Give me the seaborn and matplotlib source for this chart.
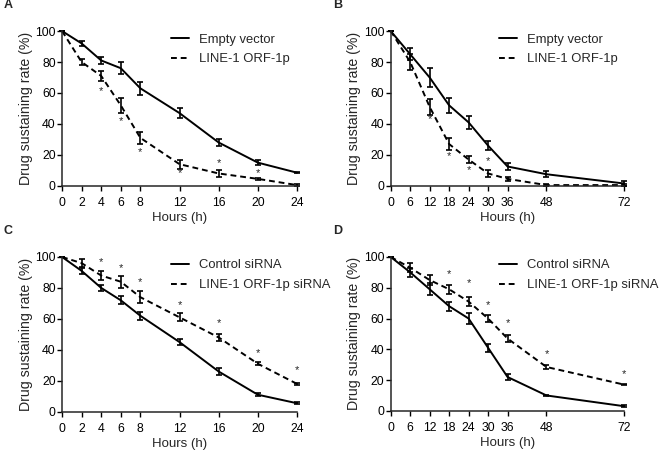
import pandas as pd
import matplotlib
matplotlib.use("Agg")
import matplotlib.pyplot as plt
import seaborn as sns

# Panel A / C time points (h) and panel B / D time points (h)
hours_short = [0, 2, 4, 6, 8, 12, 16, 20, 24]
hours_long = [0, 6, 12, 18, 24, 30, 36, 48, 72]

# Panel A: overexpression, 24 h
a_empty = [100, 92, 81, 76, 63, 47, 28, 15, 8.5]
a_empty_err = [0, 1.5, 2, 4, 4, 3, 2.5, 1.5, 0.5]
a_orf = [100, 80, 71, 52, 31, 14, 8, 4.5, 0.5]
a_orf_err = [0, 2, 3, 5, 4, 3, 2, 0.5, 0.5]
a_star_x = [4, 6, 8, 12, 16, 20]
a_star_y = [61, 42, 22, 8, 15, 8]

# Panel B: overexpression, 72 h
b_empty = [100, 85, 70, 52, 41, 26, 12.5, 7.5, 1.5]
b_empty_err = [0, 4, 6, 5, 4, 3, 2, 2, 1.5]
b_orf = [100, 80, 51, 27, 17, 8, 4.5, 0.5, 0.5]
b_orf_err = [0, 5, 5, 4, 2.5, 2.5, 1.5, 0.5, 0.5]
b_star_x = [12, 18, 24, 30]
b_star_y = [43, 19, 10, 16]

# Panel C: siRNA, 24 h
c_ctrl = [100, 91, 80, 72, 62, 45, 26, 11, 5.5]
c_ctrl_err = [0, 2, 2, 2.5, 2.5, 2, 2.5, 1, 0.5]
c_si = [100, 96, 88, 84, 74, 61, 48, 31, 18]
c_si_err = [0, 2.5, 3, 4, 4, 2.5, 2.5, 1, 0.5]
c_star_x = [4, 6, 8, 12, 16, 20, 24]
c_star_y = [97, 93, 83.5, 69, 57, 38, 27]

# Panel D: siRNA, 72 h
d_ctrl = [100, 90, 79, 68, 60, 41, 22, 10, 3]
d_ctrl_err = [0, 3, 4, 3, 3.5, 2.5, 2, 0.5, 0.5]
d_si = [100, 93, 85, 79, 71, 60, 47, 28.5, 17]
d_si_err = [0, 3, 3, 3, 3, 2, 2, 1, 0.5]
d_star_x = [18, 24, 30, 36, 48, 72]
d_star_y = [89, 83, 69, 57, 37, 24]

sns.set_style("ticks")
plt.rcParams["font.family"] = ["Liberation Sans", "DejaVu Sans"]
plt.rcParams["font.size"] = 9.5

fig = plt.figure(figsize=(6.6, 4.5), dpi=100)

panels = [
    ("A", [0.094, 0.587, 0.356, 0.344], hours_short,
     a_empty, a_empty_err, a_orf, a_orf_err, a_star_x, a_star_y,
     ["Empty vector", "LINE-1 ORF-1p"]),
    ("B", [0.592, 0.587, 0.354, 0.344], hours_long,
     b_empty, b_empty_err, b_orf, b_orf_err, b_star_x, b_star_y,
     ["Empty vector", "LINE-1 ORF-1p"]),
    ("C", [0.094, 0.085, 0.356, 0.344], hours_short,
     c_ctrl, c_ctrl_err, c_si, c_si_err, c_star_x, c_star_y,
     ["Control siRNA", "LINE-1 ORF-1p siRNA"]),
    ("D", [0.592, 0.087, 0.354, 0.342], hours_long,
     d_ctrl, d_ctrl_err, d_si, d_si_err, d_star_x, d_star_y,
     ["Control siRNA", "LINE-1 ORF-1p siRNA"]),
]

for letter, rect, hrs, y1, e1, y2, e2, sx, sy, names in panels:
    ax = fig.add_axes(rect)
    df = pd.DataFrame({
        "Hours": hrs + hrs,
        "Rate": y1 + y2,
        "Group": [names[0]] * len(hrs) + [names[1]] * len(hrs),
    })
    sns.lineplot(data=df, x="Hours", y="Rate", style="Group",
                 dashes={names[0]: "", names[1]: (3, 2)},
                 color="black", linewidth=1.4, ax=ax, clip_on=False)
    ax.errorbar(hrs, y1, yerr=e1, fmt="none", ecolor="black",
                elinewidth=1.2, capsize=2.5, capthick=1.2, clip_on=False)
    ax.errorbar(hrs, y2, yerr=e2, fmt="none", ecolor="black",
                elinewidth=1.2, capsize=2.5, capthick=1.2, clip_on=False)
    for x, y in zip(sx, sy):
        ax.text(x, y, "*", ha="center", va="center", fontsize=8)

    ax.set_xlim(0, hrs[-1])
    ax.set_ylim(0, 100)
    ax.set_xticks(hrs)
    ax.set_yticks([0, 20, 40, 60, 80, 100])
    ax.set_xlabel("Hours (h)", labelpad=2.5, fontsize=9.5)
    ax.set_ylabel("Drug sustaining rate (%)", labelpad=2, fontsize=10.2)
    ax.tick_params(length=3.5, width=1, colors="black", labelsize=8.8)
    ax.tick_params(axis="x", pad=4.5)
    ax.tick_params(axis="y", pad=1)
    for s in ["top", "right"]:
        ax.spines[s].set_visible(False)
    for s in ["left", "bottom"]:
        ax.spines[s].set_linewidth(1.1)
    leg = ax.legend(loc="upper left", bbox_to_anchor=(0.465, 0.985),
                    frameon=False, handlelength=1.35, handletextpad=0.75,
                    labelspacing=0.6, borderaxespad=0, borderpad=0,
                    fontsize=9.4)
    for h in leg.get_lines():
        h.set_linewidth(1.4)
    fig.text(rect[0] - 0.088, rect[1] + rect[3] + 0.058, letter,
             fontsize=9, fontweight="bold", ha="left", va="center")

fig.savefig("out.png", dpi=100)
